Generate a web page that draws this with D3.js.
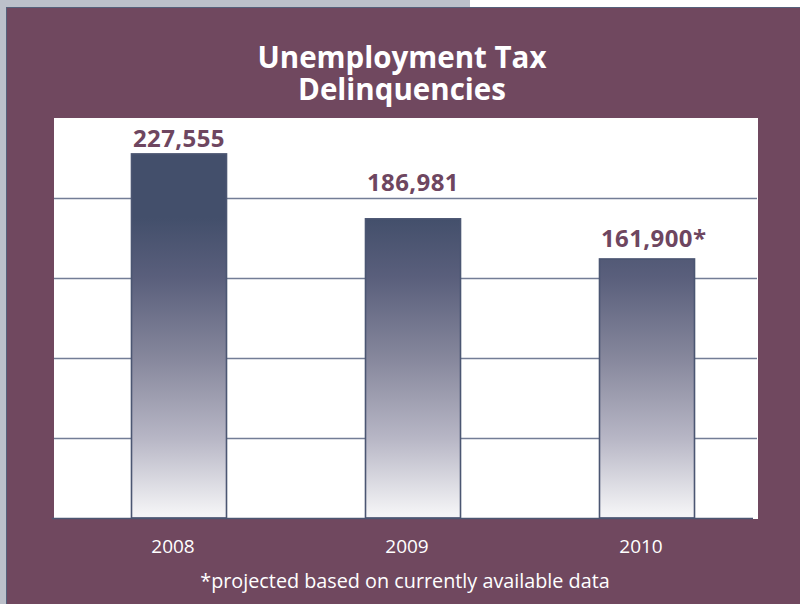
<!DOCTYPE html>
<html>
<head>
<meta charset="utf-8">
<script src="https://cdn.jsdelivr.net/npm/d3@7"></script>
<style>
  html, body { margin: 0; padding: 0; background: #ffffff; }
  svg { display: block; }
  text { font-family: "Open Sans", "Noto Sans", sans-serif; }
</style>
</head>
<body>
<svg id="chart" width="800" height="604"></svg>
<script>
// Data
const years = ["2008", "2009", "2010"];
const delinquencies = [227555, 186981, 161900];
const projected = [false, false, true];
const gridTicks = [50000, 100000, 150000, 200000];
const titleLines = ["Unemployment Tax", "Delinquencies"];
const footnote = "*projected based on currently available data";

// Layout
const W = 800, H = 604;
const plot = { left: 54, right: 758, top: 118, bottom: 518 };
const labelLift = [7, 28, 12];   // gap between each value label and its bar top
const maroon = "#70485f";
const navy = "#434f6b";

const svg = d3.select("#chart");

// Page backdrop and the framed maroon panel
svg.append("rect").attr("x", 0).attr("y", 0).attr("width", W).attr("height", H).attr("fill", "#bcc0ca");
svg.append("rect").attr("x", 470).attr("y", 0).attr("width", W - 470).attr("height", 8).attr("fill", "#ffffff");
svg.append("rect").attr("x", 6.5).attr("y", 7.5).attr("width", W).attr("height", H)
  .attr("fill", maroon).attr("stroke", "#56607a").attr("stroke-width", 1);

// Scales
const x = d3.scaleBand().domain(years).range([62, 764]).paddingInner(0.594).paddingOuter(0.297);
const y = d3.scaleLinear().domain([0, 250000]).range([plot.bottom, plot.top]);

// Plot area
svg.append("rect")
  .attr("x", plot.left).attr("y", plot.top)
  .attr("width", plot.right - plot.left).attr("height", plot.bottom - plot.top + 1)
  .attr("fill", "#ffffff");

// Gridlines
const gridAxis = d3.axisLeft(y).tickValues(gridTicks).tickSize(-(plot.right - plot.left - 1)).tickFormat("");
const g = svg.append("g").attr("transform", `translate(${plot.left},0)`).call(gridAxis);
g.select(".domain").remove();
g.selectAll(".tick line").attr("stroke", "#737d96").attr("stroke-width", 1.6);

// Bar gradient, laid out in page space so shorter bars start lighter
const defs = svg.append("defs");
const grad = defs.append("linearGradient")
  .attr("id", "barFade").attr("gradientUnits", "userSpaceOnUse")
  .attr("x1", 0).attr("x2", 0).attr("y1", plot.top).attr("y2", plot.bottom);
[
  [0.00, navy],
  [0.25, navy],
  [0.40, "#5a5f7c"],
  [0.60, "#86879c"],
  [0.80, "#b7b6c5"],
  [0.99, "#f4f4f6"]
].forEach(([o, c]) => grad.append("stop").attr("offset", o).attr("stop-color", c));

// Bars
svg.append("g").selectAll("rect")
  .data(years)
  .join("rect")
  .attr("x", d => x(d))
  .attr("y", (d, i) => y(delinquencies[i]))
  .attr("width", x.bandwidth())
  .attr("height", (d, i) => y(0) - y(delinquencies[i]))
  .attr("fill", "url(#barFade)")
  .attr("stroke", "#4b5672")
  .attr("stroke-width", 1.6);

// Baseline
svg.append("line")
  .attr("x1", 52).attr("x2", 753)
  .attr("y1", plot.bottom + 0.5).attr("y2", plot.bottom + 0.5)
  .attr("stroke", "#4b5672").attr("stroke-width", 1.6);

// Value labels
const fmt = d3.format(",");
const vl = svg.append("g").selectAll("text")
  .data(years)
  .join("text")
  .attr("y", (d, i) => y(delinquencies[i]) - labelLift[i])
  .attr("fill", "#6e4660")
  .attr("font-size", 24)
  .attr("font-weight", 700)
  .attr("letter-spacing", 0.4)
  .attr("text-anchor", "start")
  .text((d, i) => fmt(delinquencies[i]));
vl.each(function(d, i) {
  const t = d3.select(this);
  const w = this.getComputedTextLength();
  t.attr("x", x(d) + x.bandwidth() / 2 - w / 2);
  if (projected[i]) t.append("tspan").text("*");
});

// Category labels
svg.append("g").selectAll("text")
  .data(years)
  .join("text")
  .attr("x", d => x(d) + x.bandwidth() / 2 - 6)
  .attr("y", 553)
  .attr("fill", "#ffffff")
  .attr("font-size", 19)
  .attr("text-anchor", "middle")
  .text(d => d);

// Title
svg.append("g").selectAll("text")
  .data(titleLines)
  .join("text")
  .attr("x", 402)
  .attr("y", (d, i) => 68 + i * 32)
  .attr("fill", "#ffffff")
  .attr("font-size", 29.5)
  .attr("font-weight", 700)
  .attr("text-anchor", "middle")
  .text(d => d);

// Footnote
svg.append("text")
  .attr("x", 405).attr("y", 588)
  .attr("fill", "#ffffff")
  .attr("font-size", 19.8)
  .attr("text-anchor", "middle")
  .text(footnote);
</script>
</body>
</html>
